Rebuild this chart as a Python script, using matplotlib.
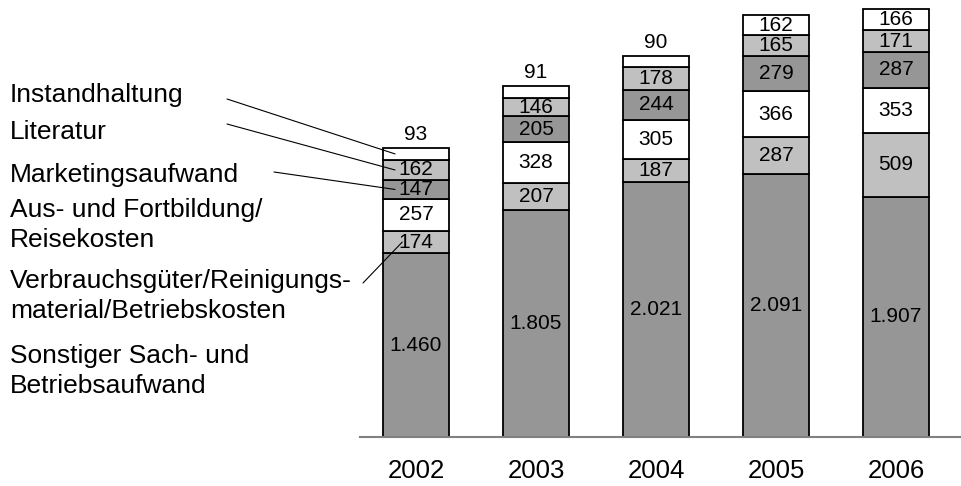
import matplotlib.pyplot as plt
import numpy as np

plt.rcParams['font.family'] = ['Liberation Sans', 'DejaVu Sans']

years = ['2002', '2003', '2004', '2005', '2006']
sonstiger = [1460, 1805, 2021, 2091, 1907]
verbrauch = [174, 207, 187, 287, 509]
fortbildung = [257, 328, 305, 366, 353]
marketing = [147, 205, 244, 279, 287]
literatur = [162, 146, 178, 165, 171]
instandhaltung = [93, 91, 90, 162, 166]

series = [sonstiger, verbrauch, fortbildung, marketing, literatur, instandhaltung]
colors = ['#969696', '#c0c0c0', '#ffffff', '#969696', '#c0c0c0', '#ffffff']

W, H = 962, 486
fig = plt.figure(figsize=(W / 100, H / 100), dpi=100)
ax = fig.add_axes([360 / W, 49 / H, 602 / W, 437 / H])

x = np.arange(len(years))
width = 0.55
bottom = np.zeros(len(years))
mids = []  # segment middles for leader lines
for vals, c in zip(series, colors):
    vals = np.array(vals, dtype=float)
    ax.bar(x, vals, width, bottom=bottom, color=c, edgecolor='black', linewidth=1.3, zorder=2)
    mids.append(bottom + vals / 2)
    for xi, b, v in zip(x, bottom, vals):
        txt = f'{int(v):,}'.replace(',', '.')
        if v < 100:
            ax.annotate(txt, (xi, b + v), xytext=(0, 3), textcoords='offset points',
                        ha='center', va='bottom', fontsize=15)
        else:
            ax.text(xi, b + v / 2, txt, ha='center', va='center', fontsize=15)
    bottom += vals

ax.set_xlim(-0.467, 4.55)
ax.set_ylim(0, 3468)
ax.set_xticks(x, years)
ax.tick_params(axis='x', length=0, pad=16, labelsize=18.5)
ax.set_yticks([])
for s in ['top', 'right', 'left']:
    ax.spines[s].set_visible(False)
ax.spines['bottom'].set_color('#808080')
ax.spines['bottom'].set_linewidth(1.5)

# Beschriftung links (Grundlinie in Pixeln von oben)
labels = [('Instandhaltung', 102), ('Literatur', 139), ('Marketingsaufwand', 182),
          ('Aus- und Fortbildung/', 217), ('Reisekosten', 247),
          ('Verbrauchsgüter/Reinigungs-', 288), ('material/Betriebskosten', 318),
          ('Sonstiger Sach- und', 363), ('Betriebsaufwand', 393)]
for t, ypx in labels:
    fig.text(10 / W, 1 - ypx / H, t, ha='left', va='baseline', fontsize=19)

# Linien zu den Segmenten von 2002
leaders = [(5, 0.1, 227, 99), (4, 0.1, 227, 124), (3, 0.1, 274, 172), (1, 0.16, 363, 283)]
for idx, dx, px, py in leaders:
    ax.annotate('', xy=(x[0] - width / 2 + dx, mids[idx][0]),
                xytext=(px / W, 1 - py / H), textcoords='figure fraction',
                arrowprops=dict(arrowstyle='-', color='black', lw=0.8,
                                shrinkA=0, shrinkB=0))

fig.savefig('out.png', dpi=100)
